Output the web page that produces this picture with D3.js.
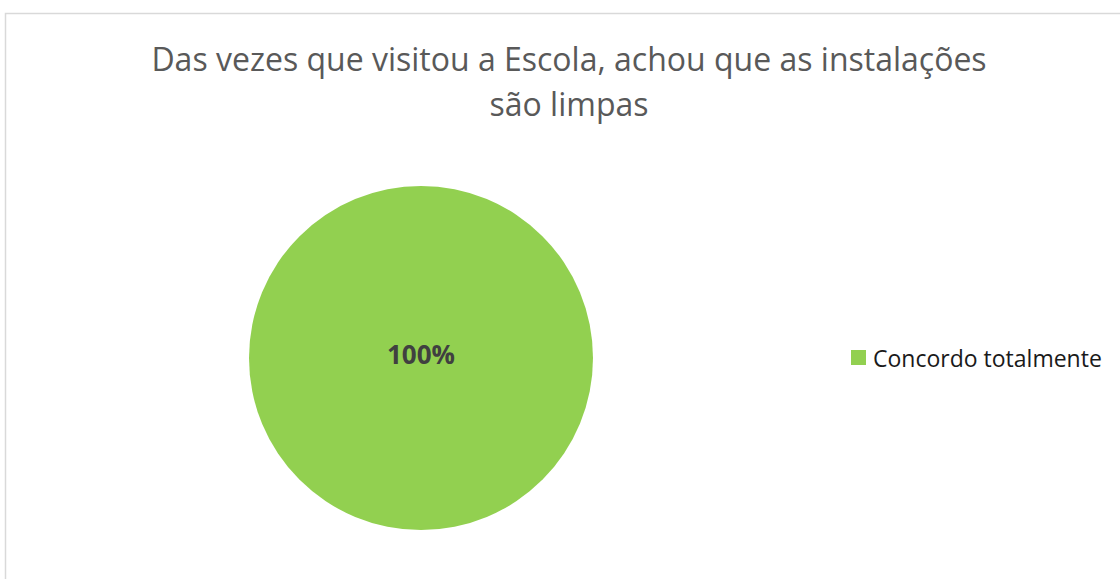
<!DOCTYPE html>
<html>
<head>
<meta charset="utf-8">
<script src="https://cdn.jsdelivr.net/npm/d3@7"></script>
<style>
  body { margin: 0; background: #fff; }
  text { font-family: "Open Sans", sans-serif; }
</style>
</head>
<body>
<div class="chart"></div>
<script>
// chart data
var categories = ["Concordo totalmente"];
var values = [100];
var colors = ["#92D050"];
var titleLines = ["Das vezes que visitou a Escola, achou que as instalações", "são limpas"];

var svgWidth = 1120, svgHeight = 579;

var svg = d3.select(".chart")
  .append("svg")
  .attr("width", svgWidth)
  .attr("height", svgHeight);

// chart area border (only left and top visible in frame)
svg.append("rect")
  .attr("x", 5.5)
  .attr("y", 13.5)
  .attr("width", 1130)
  .attr("height", 600)
  .attr("fill", "#fff")
  .attr("stroke", "#d9d9d9")
  .attr("stroke-width", 1.5);

// title
svg.append("text")
  .attr("text-anchor", "middle")
  .attr("fill", "#595959")
  .style("font-size", "32px")
  .selectAll("tspan")
  .data(titleLines)
  .enter()
  .append("tspan")
  .attr("x", 569)
  .attr("y", (d, i) => 71 + i * 45)
  .text(d => d);

// pie
var cx = 421, cy = 358, radius = 172;
var total = d3.sum(values);
var pie = d3.pie().sort(null)(values);
var arc = d3.arc().innerRadius(0).outerRadius(radius);

var pieGroup = svg.append("g")
  .attr("transform", `translate(${cx}, ${cy})`);

pieGroup.selectAll("path")
  .data(pie)
  .enter()
  .append("path")
  .attr("d", arc)
  .attr("fill", (d, i) => colors[i]);

// data label
pieGroup.selectAll("text.label")
  .data(pie)
  .enter()
  .append("text")
  .attr("class", "label")
  .attr("text-anchor", "middle")
  .attr("y", -3)
  .attr("dy", "0.35em")
  .attr("fill", "#404040")
  .style("font-size", "26px")
  .style("font-weight", "bold")
  .text(d => Math.round(d.value / total * 100) + "%");

// legend
var legend = svg.append("g")
  .attr("transform", "translate(851, 350)");

var items = legend.selectAll("g")
  .data(categories)
  .enter()
  .append("g")
  .attr("transform", (d, i) => `translate(0, ${i * 30})`);

items.append("rect")
  .attr("width", 15)
  .attr("height", 15)
  .attr("fill", (d, i) => colors[i]);

items.append("text")
  .attr("x", 22)
  .attr("y", 9)
  .attr("dy", "0.35em")
  .attr("fill", "#1a1a1a")
  .style("font-size", "23px")
  .text(d => d);
</script>
</body>
</html>
